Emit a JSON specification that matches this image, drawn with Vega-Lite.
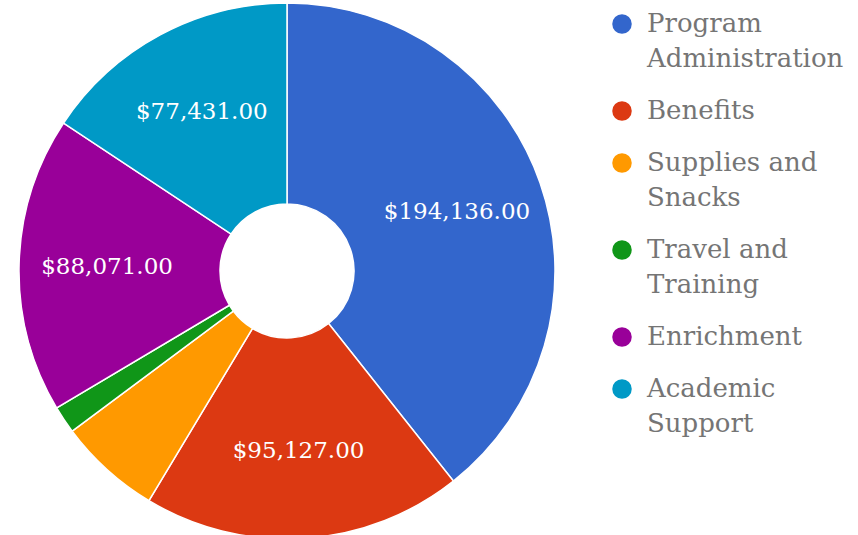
{
  "$schema": "https://vega.github.io/schema/vega-lite/v6.json",
  "width": 574,
  "height": 540,
  "autosize": {"type": "pad"},
  "padding": 0,
  "background": "white",
  "config": {"style": {"guide-label": {"lineHeight": 35}}},
  "data": {"values": [
    {"k": 1, "category": "Program Administration", "amount": 194136},
    {"k": 2, "category": "Benefits", "amount": 95127},
    {"k": 3, "category": "Supplies and Snacks", "amount": 30540},
    {"k": 4, "category": "Travel and Training", "amount": 8200},
    {"k": 5, "category": "Enrichment", "amount": 88071},
    {"k": 6, "category": "Academic Support", "amount": 77431}
  ]},
  "encoding": {
    "theta": {"field": "amount", "type": "quantitative", "stack": true},
    "order": {"field": "k", "type": "quantitative"},
    "color": {
      "field": "category", "type": "nominal",
      "scale": {
        "domain": ["Program Administration", "Benefits", "Supplies and Snacks", "Travel and Training", "Enrichment", "Academic Support"],
        "range": ["#3366cc", "#dc3912", "#ff9900", "#109618", "#990099", "#0099c6"]
      },
      "legend": {
        "title": null,
        "orient": "right",
        "offset": 25,
        "padding": 10,
        "symbolType": "circle",
        "symbolSize": 380,
        "symbolStrokeWidth": 0,
        "labelFont": "DejaVu Serif",
        "labelFontSize": 26,
        "labelColor": "#757575",
        "labelLimit": 400,
        "labelOffset": 12,
        "rowPadding": 26,
        "labelBaseline": "middle",
        "labelExpr": "datum.label == 'Program Administration' ? ['Program', 'Administration'] : datum.label == 'Supplies and Snacks' ? ['Supplies and', 'Snacks'] : datum.label == 'Travel and Training' ? ['Travel and', 'Training'] : datum.label == 'Academic Support' ? ['Academic', 'Support'] : datum.label",
        "encode": {"labels": {"enter": {"lineHeight": {"value": 35}}, "update": {"lineHeight": {"value": 35}}}}
      }
    }
  },
  "layer": [
    {
      "mark": {"type": "arc", "outerRadius": 268, "innerRadius": 67, "stroke": "white", "strokeWidth": 1.5}
    },
    {
      "mark": {"type": "text", "radius": 180, "font": "DejaVu Serif", "fontSize": 23, "fill": "white", "align": "center", "baseline": "middle"},
      "encoding": {
        "text": {"field": "amount", "type": "quantitative", "format": "$,.2f"},
        "color": {"value": "white"},
        "opacity": {"condition": {"test": "datum.amount > 50000", "value": 1}, "value": 0}
      }
    }
  ]
}
